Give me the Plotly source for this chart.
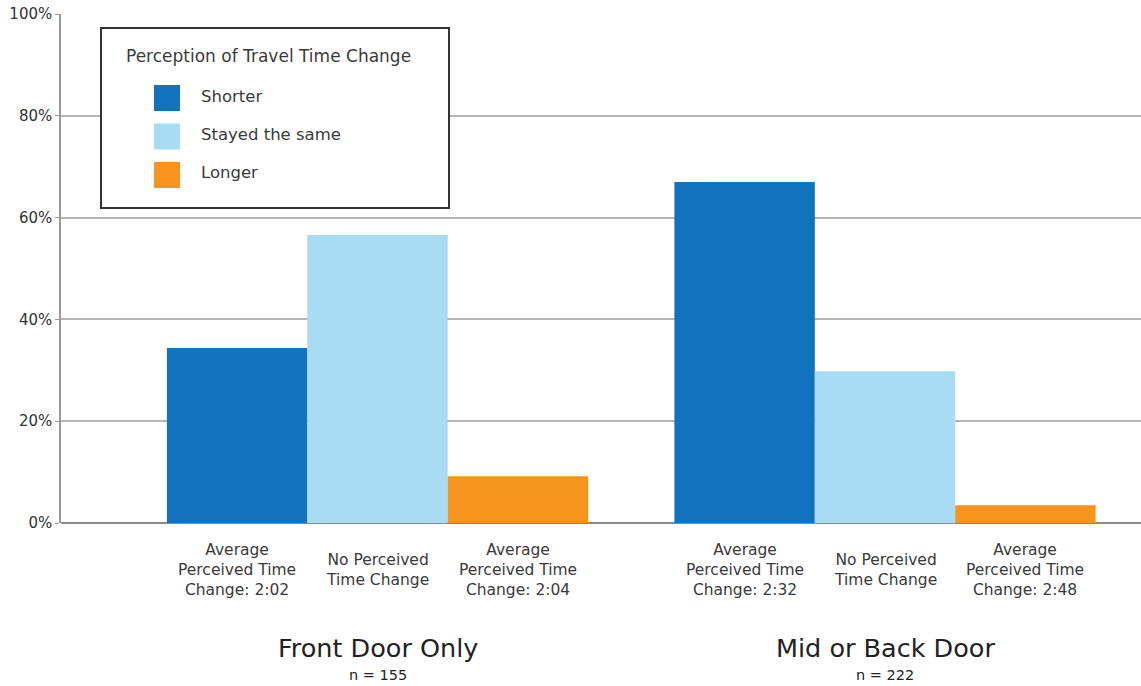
import plotly.graph_objects as go

groups = ["Front Door Only", "Mid or Back Door"]
group_n = ["n = 155", "n = 222"]
series = ["Shorter", "Stayed the same", "Longer"]
shorter = [34.4, 67.0]
stayed = [56.6, 29.8]
longer = [9.2, 3.5]
bar_labels = [
    ["Average<br>Perceived Time<br>Change: 2:02", "No Perceived<br>Time Change", "Average<br>Perceived Time<br>Change: 2:04"],
    ["Average<br>Perceived Time<br>Change: 2:32", "No Perceived<br>Time Change", "Average<br>Perceived Time<br>Change: 2:48"],
]
y_ticks = [0, 20, 40, 60, 80, 100]
y_ticklabels = ["0%", "20%", "40%", "60%", "80%", "100%"]

colors = ["#1172BD", "#A8DCF3", "#F7941D"]
FONT = "DejaVu Sans"
TXT = "#3a3a3a"

bargap = 0.17
xs = list(range(len(groups)))
fig = go.Figure()
for name, vals, c in zip(series, [shorter, stayed, longer], colors):
    fig.add_trace(go.Bar(x=xs, y=vals, name=name, marker=dict(color=c, line=dict(width=0)),
                         showlegend=False))

bw = (1 - bargap) / 3
annotations = []
for gi, g in enumerate(groups):
    for j in range(3):
        annotations.append(dict(x=gi + (j - 1) * bw, y=0, xref="x", yref="paper",
                                text=bar_labels[gi][j], showarrow=False, yanchor="middle",
                                yshift=-47, align="center",
                                font=dict(family=FONT, size=15.5, color=TXT)))
    annotations.append(dict(x=gi, y=0, xref="x", yref="paper", text=g, showarrow=False,
                            yanchor="middle", yshift=-125,
                            font=dict(family=FONT, size=25.5, color="#222222")))
    annotations.append(dict(x=gi, y=0, xref="x", yref="paper", text=group_n[gi], showarrow=False,
                            yanchor="middle", yshift=-152,
                            font=dict(family=FONT, size=14.5, color="#222222")))

# manual legend (paper coords relative to plot area)
W, H = 1141, 686
L, R, T, B = 61, 0, 14, 163
pw, ph = W - L - R, H - T - B
def px(x):
    return (x - L) / pw
def py(y):
    return (H - B - y) / ph

shapes = [dict(type="rect", xref="paper", yref="paper", x0=px(101), x1=px(449), y0=py(208), y1=py(28),
               fillcolor="white", line=dict(color="#333333", width=2), layer="above")]
annotations.append(dict(x=px(124), y=py(56), xref="paper", yref="paper", text="Perception of Travel Time Change",
                        showarrow=False, xanchor="left", yanchor="middle",
                        font=dict(family=FONT, size=17, color=TXT)))
for k, (name, c) in enumerate(zip(series, colors)):
    yc = 98 + k * 38.5
    shapes.append(dict(type="rect", xref="paper", yref="paper", x0=px(154), x1=px(180),
                       y0=py(yc + 13), y1=py(yc - 13), fillcolor=c, line=dict(width=0), layer="above"))
    annotations.append(dict(x=px(199), y=py(yc - 2), xref="paper", yref="paper", text=name, showarrow=False,
                            xanchor="left", yanchor="middle", font=dict(family=FONT, size=16.5, color=TXT)))

x0 = -316.5 / 507.5
x1 = 763.5 / 507.5
fig.update_layout(
    width=W, height=H, margin=dict(l=L, r=R, t=T, b=B),
    paper_bgcolor="white", plot_bgcolor="white",
    barmode="group", bargap=bargap, bargroupgap=0,
    xaxis=dict(range=[x0, x1], showticklabels=False, showgrid=False, zeroline=False,
               showline=False, ticks=""),
    yaxis=dict(range=[0, 100], tickvals=y_ticks, ticktext=y_ticklabels, showgrid=True,
               gridcolor="#b5b5b5", gridwidth=1.5, zeroline=True, zerolinecolor="#8a8a8a",
               zerolinewidth=1.5, showline=True, linecolor="#9a9a9a", linewidth=1.5,
               ticks="outside", ticklen=4, tickcolor="#9a9a9a",
               tickfont=dict(family=FONT, size=15, color="#333333")),
    annotations=annotations, shapes=shapes,
    font=dict(family=FONT),
)
fig.write_html("out.html")
